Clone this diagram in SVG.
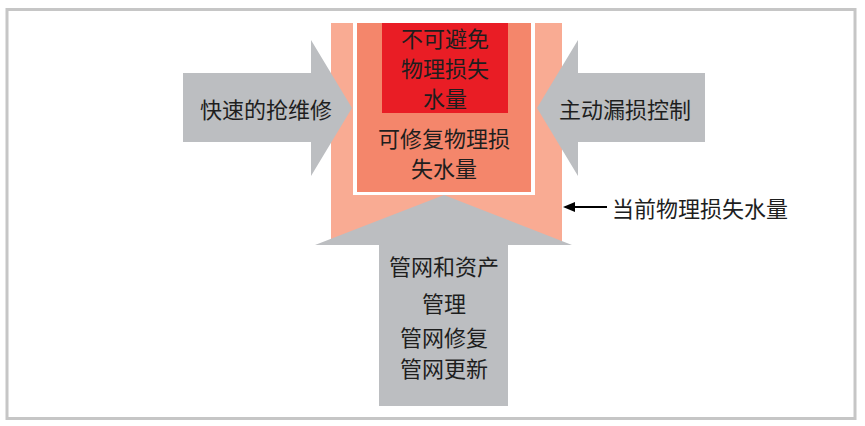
<svg xmlns="http://www.w3.org/2000/svg" width="865" height="426" viewBox="0 0 865 426">
<style>
.t{font-family:"Noto Sans CJK SC","Noto Sans",sans-serif;font-size:22px;fill:#1e1e1e;text-anchor:middle;dominant-baseline:central}
.g{fill:#bcbec1}
</style>
<defs>
<marker id="ah" viewBox="0 0 12 10" refX="0" refY="5" markerWidth="12" markerHeight="10" markerUnits="userSpaceOnUse" orient="auto">
<path d="M12,5 L0,0 L0,10 Z" fill="#000"/>
</marker>
</defs>
<rect x="0" y="0" width="865" height="426" fill="#fff"/>
<rect x="7" y="9.5" width="848" height="409" fill="none" stroke="#c6c6c6" stroke-width="3"/>
<g id="current-loss">
<rect x="331" y="23" width="231" height="220" fill="#f9ab93"/>
<rect x="353" y="23" width="182" height="172" fill="#fff"/>
</g>
<g id="repairable">
<rect x="357" y="23" width="174" height="169" fill="#f4866b"/>
<text class="t" x="444" y="137">可修复物理损</text>
<text class="t" x="444" y="167">失水量</text>
</g>
<g id="unavoidable">
<rect x="382" y="23" width="126" height="90" fill="#e91d25"/>
<text class="t" x="445" y="37">不可避免</text>
<text class="t" x="445" y="67">物理损失</text>
<text class="t" x="445" y="97">水量</text>
</g>
<g id="fast-repair">
<path class="g" d="M183,73 H311 V40 L352,108 L311,176 V142 H183 Z"/>
<text class="t" x="266" y="108">快速的抢维修</text>
</g>
<g id="active-control">
<path class="g" d="M705,73 H578 V40 L537,108 L578,176 V142 H705 Z"/>
<text class="t" x="625" y="108">主动漏损控制</text>
</g>
<g id="pipe-management">
<path class="g" d="M379,406 V245 H315 L444,195 L572,245 H508 V406 Z"/>
<text class="t" x="444" y="265">管网和资产</text>
<text class="t" x="444" y="302">管理</text>
<text class="t" x="444" y="336">管网修复</text>
<text class="t" x="444" y="367">管网更新</text>
</g>
<g id="connectors">
<line x1="607" y1="207" x2="575" y2="207" stroke="#000" stroke-width="2" marker-end="url(#ah)"/>
</g>
<g id="label">
<text class="t" x="700" y="207">当前物理损失水量</text>
</g>
</svg>
